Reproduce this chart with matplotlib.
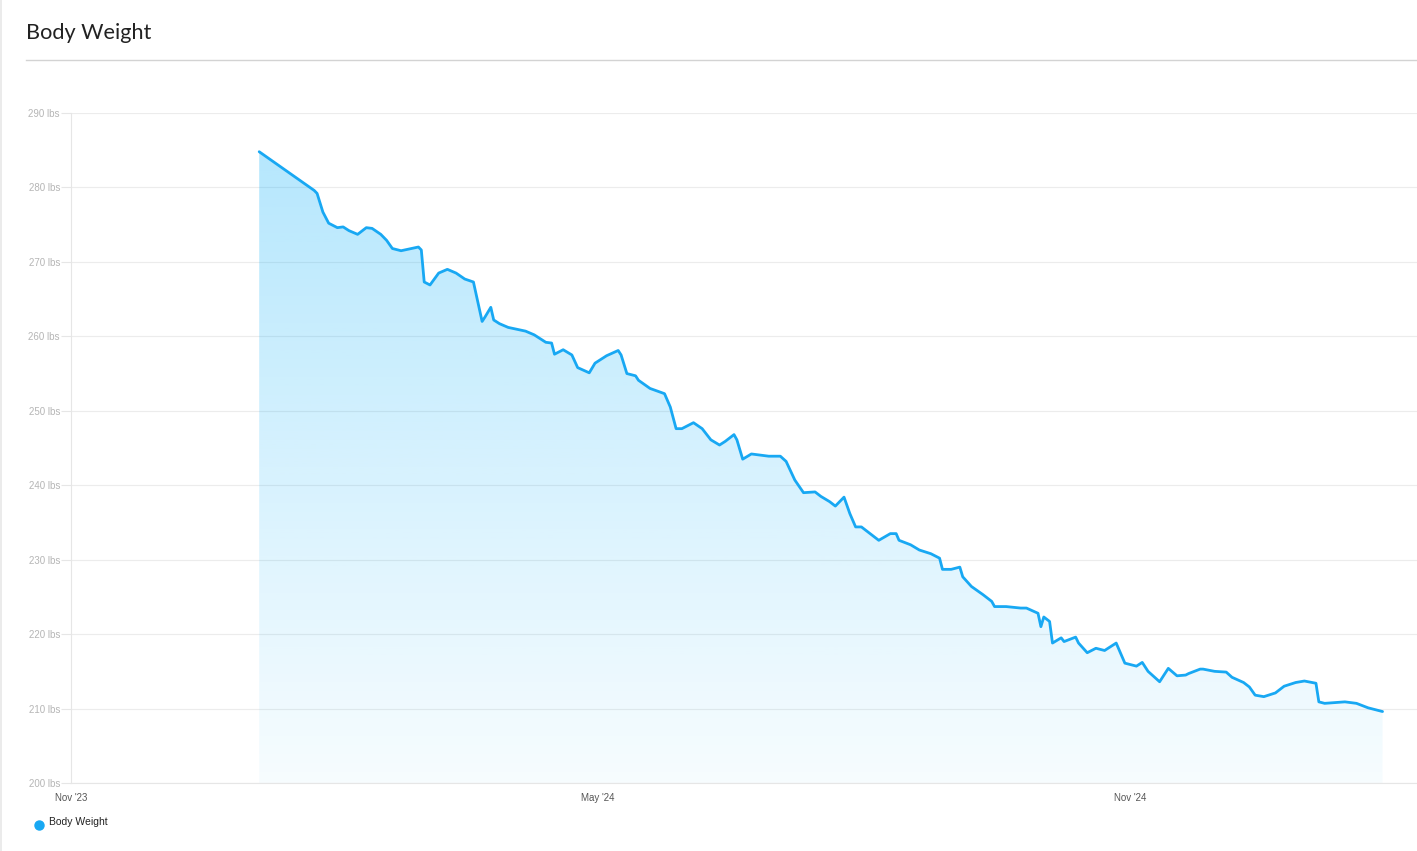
import numpy as np
import pandas as pd
import matplotlib
matplotlib.use('Agg')
import matplotlib.pyplot as plt
import matplotlib.dates as mdates
from matplotlib.patches import Polygon
from matplotlib.lines import Line2D

# body weight readings (date, lbs)
dates = [
    '2024-01-05', '2024-01-24', '2024-01-25', '2024-01-27', '2024-01-29', '2024-02-01',
    '2024-02-03', '2024-02-05', '2024-02-08', '2024-02-11', '2024-02-13', '2024-02-16',
    '2024-02-18', '2024-02-20', '2024-02-23', '2024-02-29', '2024-03-01', '2024-03-02',
    '2024-03-04', '2024-03-07', '2024-03-10', '2024-03-13', '2024-03-16', '2024-03-19',
    '2024-03-22', '2024-03-23', '2024-03-25', '2024-03-26', '2024-03-28', '2024-03-31',
    '2024-04-06', '2024-04-09', '2024-04-13', '2024-04-15', '2024-04-16', '2024-04-19',
    '2024-04-22', '2024-04-24', '2024-04-28', '2024-04-30', '2024-05-04', '2024-05-08',
    '2024-05-09', '2024-05-11', '2024-05-14', '2024-05-15', '2024-05-19', '2024-05-24',
    '2024-05-26', '2024-05-28', '2024-05-30', '2024-06-03', '2024-06-06', '2024-06-09',
    '2024-06-12', '2024-06-14', '2024-06-17', '2024-06-18', '2024-06-20', '2024-06-23',
    '2024-06-29', '2024-07-03', '2024-07-05', '2024-07-08', '2024-07-11', '2024-07-15',
    '2024-07-17', '2024-07-20', '2024-07-22', '2024-07-25', '2024-07-27', '2024-07-29',
    '2024-07-31', '2024-08-03', '2024-08-06', '2024-08-10', '2024-08-12', '2024-08-13',
    '2024-08-17', '2024-08-20', '2024-08-24', '2024-08-27', '2024-08-28', '2024-08-31',
    '2024-09-03', '2024-09-04', '2024-09-07', '2024-09-11', '2024-09-14', '2024-09-15',
    '2024-09-19', '2024-09-24', '2024-09-26', '2024-09-30', '2024-10-01', '2024-10-02',
    '2024-10-04', '2024-10-05', '2024-10-08', '2024-10-09', '2024-10-13', '2024-10-14',
    '2024-10-17', '2024-10-20', '2024-10-23', '2024-10-27', '2024-10-28', '2024-10-30',
    '2024-11-03', '2024-11-05', '2024-11-07', '2024-11-11', '2024-11-14', '2024-11-17',
    '2024-11-20', '2024-11-21', '2024-11-25', '2024-11-26', '2024-11-30', '2024-12-04',
    '2024-12-06', '2024-12-10', '2024-12-12', '2024-12-14', '2024-12-17', '2024-12-21',
    '2024-12-24', '2024-12-28', '2024-12-31', '2025-01-04', '2025-01-05', '2025-01-07',
    '2025-01-14', '2025-01-18', '2025-01-22', '2025-01-27',
]
weights = [
    284.8, 279.6, 279.2, 276.7, 275.2, 274.6,
    274.7, 274.2, 273.7, 274.6, 274.5, 273.7,
    272.9, 271.8, 271.5, 272.0, 271.6, 267.3,
    266.9, 268.5, 269.0, 268.5, 267.7, 267.3,
    262.0, 262.6, 263.9, 262.2, 261.7, 261.2,
    260.7, 260.2, 259.2, 259.1, 257.6, 258.2,
    257.5, 255.8, 255.1, 256.4, 257.4, 258.1,
    257.5, 255.0, 254.7, 254.1, 253.0, 252.3,
    250.5, 247.6, 247.6, 248.4, 247.6, 246.1,
    245.4, 245.9, 246.8, 246.1, 243.5, 244.2,
    243.9, 243.9, 243.2, 240.7, 239.0, 239.1,
    238.5, 237.8, 237.2, 238.4, 236.2, 234.4,
    234.4, 233.5, 232.6, 233.5, 233.5, 232.6,
    232.0, 231.3, 230.8, 230.2, 228.7, 228.7,
    229.0, 227.7, 226.4, 225.3, 224.4, 223.7,
    223.7, 223.5, 223.5, 222.8, 221.0, 222.3,
    221.7, 218.8, 219.5, 219.0, 219.6, 218.8,
    217.5, 218.1, 217.8, 218.8, 217.9, 216.1,
    215.7, 216.2, 215.0, 213.6, 215.4, 214.4,
    214.5, 214.7, 215.3, 215.3, 215.0, 214.9,
    214.2, 213.5, 212.9, 211.8, 211.6, 212.1,
    213.0, 213.5, 213.7, 213.4, 210.9, 210.7,
    210.9, 210.7, 210.1, 209.6,
]

y_ticks = [200, 210, 220, 230, 240, 250, 260, 270, 280, 290]
x_ticks = ['2023-11-01', '2024-05-01', '2024-11-01']
x_tick_labels = ["Nov '23", "May '24", "Nov '24"]

line_color = '#18a8f3'
fill_color = '#12b2fa'

df = pd.DataFrame({'date': pd.to_datetime(dates), 'weight': weights})

fig = plt.figure(figsize=(14.17, 8.51), dpi=100)
ax = fig.add_axes([0.0501, 0.0799, 0.9499, 0.7873])

x_start = pd.Timestamp('2023-11-01')
x_end = x_start + pd.Timedelta(days=464.9)

xnum = mdates.date2num(df['date'])
yv = df['weight'].values

# gradient fill under the line
grad = np.zeros((256, 1, 4))
rgb = matplotlib.colors.to_rgb(fill_color)
grad[:, 0, 0] = rgb[0]
grad[:, 0, 1] = rgb[1]
grad[:, 0, 2] = rgb[2]
grad[:, 0, 3] = np.linspace(0.31, 0.035, 256)
img = ax.imshow(grad, aspect='auto', origin='upper',
                extent=[xnum[0], xnum[-1], 200, yv.max()], zorder=1)
verts = [(xnum[0], 200)] + list(zip(xnum, yv)) + [(xnum[-1], 200)]
clip = Polygon(verts, closed=True, transform=ax.transData, facecolor='none', edgecolor='none')
ax.add_patch(clip)
img.set_clip_path(clip)

ax.plot(df['date'], df['weight'], color=line_color, lw=2.0, zorder=3,
        solid_joinstyle='round', solid_capstyle='round')
ax.set_xlim(x_start, x_end)
ax.set_ylim(200, 290)

# grid and axes
ax.set_yticks(y_ticks)
ax.set_yticklabels([f'{v} lbs' for v in y_ticks], fontsize=7, color='#b5b5b5',
                   fontfamily='Liberation Sans')
ax.set_xticks(pd.to_datetime(x_ticks))
ax.set_xticklabels(x_tick_labels, fontsize=7, color='#555555', fontfamily='Liberation Sans')
ax.tick_params(axis='y', length=7, width=0.8, color='#e6e6e6', pad=1)
ax.tick_params(axis='x', length=0, pad=7)
ax.grid(axis='y', color='#ececec', lw=0.8)
ax.set_axisbelow(True)
for s in ['top', 'right']:
    ax.spines[s].set_visible(False)
ax.spines['left'].set_color('#e6e6e6')
ax.spines['bottom'].set_color('#e6e6e6')
ax.spines['left'].set_linewidth(0.8)
ax.spines['bottom'].set_linewidth(0.8)

# header
fig.text(26 / 1417, 1 - 33 / 851, 'Body Weight', fontsize=15.6, color='#222222',
         fontfamily='Lato', va='center', ha='left')
fig.add_artist(Line2D([26 / 1417, 1.0], [1 - 59.5 / 851] * 2, color='#d3d3d3', lw=1))
fig.add_artist(Line2D([1 / 1417, 1 / 1417], [0, 1], color='#e8e8e8', lw=1.2))

# legend
fig.add_artist(Line2D([39 / 1417], [1 - 825 / 851], marker='o', markersize=6.5,
                      color=line_color, lw=0))
fig.text(49 / 1417, 1 - 822 / 851, 'Body Weight', fontsize=7.5, color='#222222',
         fontfamily='Liberation Sans', va='center', ha='left')

fig.savefig('out.png', dpi=100, facecolor='white')
